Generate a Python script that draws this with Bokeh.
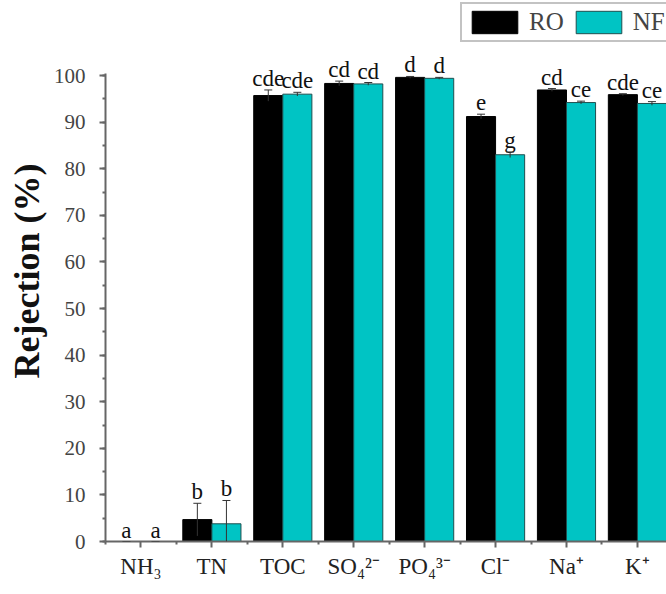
from bokeh.plotting import figure
from bokeh.models import (ColumnDataSource, FixedTicker, SingleIntervalTicker, Range1d,
                          Whisker, LabelSet, Legend, LegendItem, TeeHead)
from bokeh.embed import file_html
from bokeh.resources import INLINE

categories = ["NH₃", "TN", "TOC", "SO₄²⁻", "PO₄³⁻", "Cl⁻", "Na⁺", "K⁺"]
ro_values = [0.0, 4.7, 95.7, 98.3, 99.6, 91.2, 96.9, 95.9]
ro_errors = [0.0, 3.5, 1.2, 0.5, 0.2, 0.5, 0.3, 0.2]
nf_values = [0.0, 3.8, 96.0, 98.2, 99.4, 83.0, 94.2, 94.0]
nf_errors = [0.0, 5.0, 0.4, 0.3, 0.2, 0.6, 0.3, 0.4]
ro_letters = ["a", "b", "cde", "cd", "d", "e", "cd", "cde"]
nf_letters = ["a", "b", "cde", "cd", "d", "g", "ce", "ce"]

RO_COLOR = "#000000"
NF_COLOR = "#00C4C4"
SERIF = "Liberation Serif"
BAR_W = 0.41

xs = list(range(1, len(categories) + 1))

def make_source(values, errors, letters, offset):
    x = [c + offset for c in xs]
    top = [v + e for v, e in zip(values, errors)]
    low = [max(0.0, v - e) for v, e in zip(values, errors)]
    return ColumnDataSource(dict(x=x, top=values, upper=top, lower=low,
                                 letter=letters))

ro_src = make_source(ro_values, ro_errors, ro_letters, -BAR_W / 2)
nf_src = make_source(nf_values, nf_errors, nf_letters, BAR_W / 2)

p = figure(width=666, height=594, output_backend="svg", toolbar_location=None,
           x_range=Range1d(0.5, 8.41), y_range=Range1d(0, 116.1),
           min_border_left=105, min_border_right=0, min_border_top=0,
           min_border_bottom=53)
p.outline_line_color = None
p.grid.visible = False
p.background_fill_color = "white"
p.border_fill_color = "white"

r_ro = p.vbar(x="x", top="top", width=BAR_W, source=ro_src, fill_color=RO_COLOR,
              line_color="#000000", line_width=1)
r_nf = p.vbar(x="x", top="top", width=BAR_W, source=nf_src, fill_color=NF_COLOR,
              line_color="#1f4f4f", line_width=1)

for src in (ro_src, nf_src):
    w = Whisker(source=src, base="x", upper="upper", lower="lower", dimension="height",
                line_color="#333333", line_width=1, level="overlay",
                upper_head=TeeHead(size=8, line_color="#333333", line_width=1),
                lower_head=None)
    p.add_layout(w)
    lab = LabelSet(source=src, x="x", y="upper", text="letter", text_align="center",
                   text_baseline="alphabetic", y_offset=4, text_font=SERIF,
                   text_font_size="23px", text_color="#111111")
    p.add_layout(lab)

# axes
xax = p.xaxis[0]
xax.ticker = FixedTicker(ticks=xs, minor_ticks=[c - 0.5 for c in xs] + [len(xs) + 0.5])
xax.major_label_overrides = {c: lbl for c, lbl in zip(xs, categories)}
xax.major_label_text_font = SERIF
xax.major_label_text_font_size = "23px"
xax.major_label_text_color = "#222222"
xax.major_tick_in = 0
xax.major_tick_out = 6
xax.minor_tick_in = 0
xax.minor_tick_out = 3
xax.major_label_standoff = 6

yax = p.yaxis[0]
yax.ticker = SingleIntervalTicker(interval=10, num_minor_ticks=2)
yax.bounds = (0, 100.4)
yax.major_label_text_font = SERIF
yax.major_label_text_font_size = "21px"
yax.major_label_text_color = "#444444"
yax.major_tick_in = 0
yax.major_tick_out = 6
yax.minor_tick_in = 0
yax.minor_tick_out = 3
yax.major_label_standoff = 14
yax.axis_label = "Rejection (%)"
yax.axis_label_text_font = SERIF
yax.axis_label_text_font_style = "bold"
yax.axis_label_text_font_size = "36px"
yax.axis_label_text_color = "#111111"
yax.axis_label_standoff = 4

for ax in (xax, yax):
    ax.axis_line_color = "#666666"
    ax.axis_line_width = 2
    ax.major_tick_line_color = "#666666"
    ax.major_tick_line_width = 2
    ax.minor_tick_line_color = "#666666"
    ax.minor_tick_line_width = 2

legend = Legend(items=[LegendItem(label="RO", renderers=[r_ro]),
                       LegendItem(label="NF", renderers=[r_nf])],
                location=(355, 499), orientation="horizontal",
                glyph_width=57, glyph_height=28, label_text_font=SERIF,
                label_text_font_size="25px", label_standoff=6, spacing=6,
                padding=4, margin=0, border_line_color="#888888",
                border_line_width=2, background_fill_alpha=1)
p.add_layout(legend, "center")

open("out.html", "w").write(file_html(p, INLINE))
